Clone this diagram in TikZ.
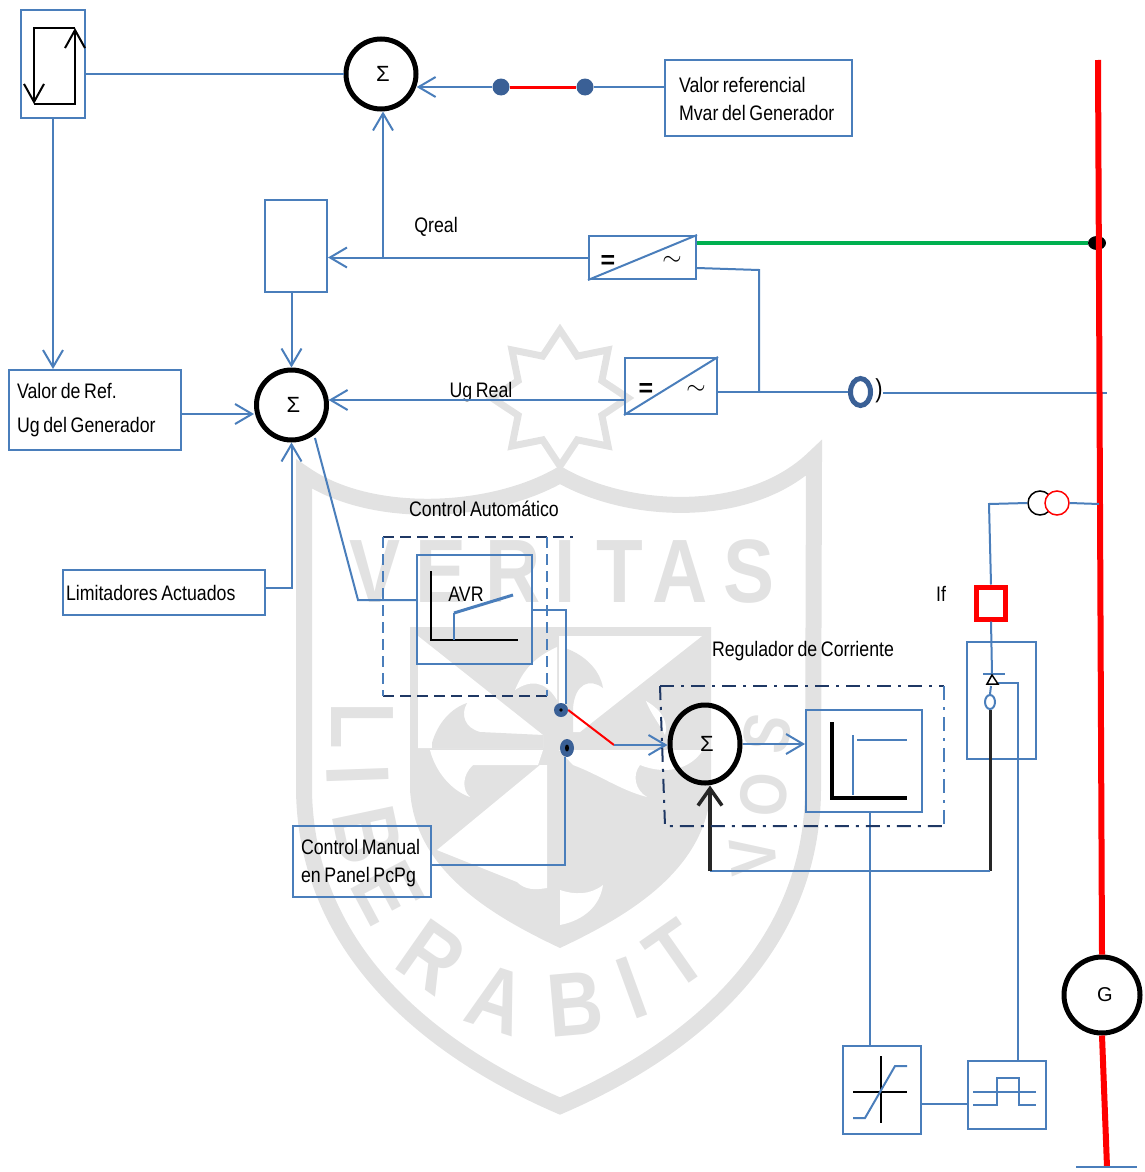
\documentclass[tikz,border=0pt]{standalone}
\usepackage{fontspec}
\setmainfont{Liberation Sans}[FakeStretch=0.845,WordSpace=0.75]
\newfontfamily\plainfont{Liberation Sans}
\newfontfamily\markfont{Liberation Sans}[FakeStretch=0.85]
\usetikzlibrary{shapes, arrows.meta, positioning}
\definecolor{wireblue}{HTML}{4A7EBB}
\definecolor{dotblue}{HTML}{3A6096}
\definecolor{navydash}{HTML}{1F3864}
\definecolor{markgray}{HTML}{E2E2E2}
\definecolor{busgreen}{HTML}{00B050}
\newcommand{\lblfont}{\fontsize{21}{28}\selectfont}
\newcommand{\sumsym}{\hspace*{4pt}\raisebox{-3pt}{Σ}}

\begin{document}
\begin{tikzpicture}[x=1pt, y=-1pt,
      blk/.style={draw=wireblue, line width=2pt, inner sep=0pt},
      txtblk/.style={blk, align=flush left, inner xsep=8pt, font=\lblfont},
      wire/.style={draw=wireblue, line width=2pt},
      arr/.style={wire, -{Straight Barb[length=17pt,width=20pt]}},
      plot/.style={draw=black, line width=2.5pt},
      sumnode/.style={circle, draw=black, line width=5pt, minimum size=70pt, inner sep=0pt, font=\plainfont\fontsize{22}{22}\selectfont},
      bus/.style={draw=red, line width=6pt},
      lbl/.style={font=\lblfont, inner sep=0pt},
      conn/.style={ellipse, fill=dotblue, inner sep=0pt, minimum width=14pt, minimum height=14pt},
      dashnavy/.style={draw=navydash, line width=2pt, dash pattern=on 11pt off 6pt},
      dashblue/.style={draw=wireblue, line width=2pt, dash pattern=on 11pt off 6pt},
      dotnavy/.style={draw=navydash, line width=2pt, dash pattern=on 14pt off 7pt on 3pt off 7pt},
      dotblue/.style={draw=wireblue, line width=2pt, dash pattern=on 14pt off 7pt on 3pt off 7pt},
      wmark/.style={text=markgray, inner sep=0pt, font=\markfont\bfseries\fontsize{90}{90}\selectfont},
      wmarksmall/.style={wmark, font=\markfont\bfseries\fontsize{66}{66}\selectfont}
    ]
      \useasboundingbox (0,0) rectangle (1144,1172);

      % escudo de fondo
      \draw[markgray, line width=16pt, line join=miter] (304,474) .. controls (370,520) and (490,515) .. (560,475)
        .. controls (630,515) and (750,520) .. (814,458) -- (813,790)
        .. controls (812,950) and (690,1050) .. (560,1106) .. controls (430,1050) and (306,950) .. (304,790) -- cycle;
      \fill[markgray] (410,627) -- (711,627) -- (711,790) .. controls (705,870) and (630,915) .. (560,948)
        .. controls (490,915) and (415,870) .. (410,790) -- cycle;
      \fill[white] (418,636) -- (543,735) -- (543,748) -- (418,748) -- cycle;
      \fill[markgray] (432,743) .. controls (438,722) and (452,708) .. (467,703) .. controls (460,715) and (465,728) .. (480,732) -- (543,735) -- (543,748) -- (432,748) -- cycle;
      \fill[white] (515,690) .. controls (525,665) and (540,655) .. (557,647) -- (557,700) .. controls (545,680) and (530,680) .. (515,690) -- cycle;
      \fill[white] (559,636) -- (702,636) -- (580,732) -- (573,732) -- (573,708) -- (559,708) -- cycle;
      \fill[markgray] (565,648) .. controls (585,655) and (600,670) .. (603,688) .. controls (590,678) and (575,683) .. (573,708) -- (573,735) -- (565,735) -- cycle;
      \fill[white] (646,701) .. controls (665,712) and (668,725) .. (665,735) .. controls (660,725) and (650,712) .. (646,701) -- cycle;
      \fill[white] (430,750) -- (543,750) -- (538,765) -- (473,765) .. controls (462,775) and (462,790) .. (470,797) .. controls (450,790) and (435,770) .. (430,750) -- cycle;
      \fill[white] (437,850) -- (540,765) -- (547,765) -- (547,888) .. controls (535,890) and (525,890) .. (517,882) -- cycle;
      \fill[white] (559,750) -- (703,750) .. controls (690,770) and (665,775) .. (640,765) .. controls (632,775) and (635,790) .. (647,797) .. controls (620,790) and (600,775) .. (573,765) -- cycle;
      \fill[white] (560,925) .. controls (585,920) and (600,905) .. (603,885) .. controls (590,895) and (575,895) .. (560,890) -- cycle;
      \node[star, star points=8, star point ratio=1.5, draw=markgray, line width=7pt, minimum size=136pt, inner sep=0pt] (wmstar) at (560,398) {};
      \foreach \i/\x/\y/\r/\l in {1/375/572/0/V, 2/441/572/0/E, 3/513/572/0/R, 4/565/572/0/I, 5/620/572/0/T, 6/680/572/0/A, 7/749/572/0/S,
          8/362/726/-90/L, 9/358/775/-88/I, 10/368/835/-78/B, 11/388/892/-62/E, 12/432/957/-35/R, 13/497/1000/-18/A, 14/575/1004/5/B, 15/632/988/20/I, 16/676/955/35/T}
        \node[wmark, rotate=\r] (wm\i) at (\x,\y) {\l};
      \foreach \i/\x/\y/\r/\l in {17/767/733/78/S, 18/764/795/85/O, 19/753/857/95/V}
        \node[wmarksmall, rotate=\r] (wm\i) at (\x,\y) {\l};

      % bloques
      \node[blk, minimum width=64pt, minimum height=108pt] (swbox) at (53,64) {};
      \node[sumnode] (sumq) at (381,74) {\sumsym};
      \node[sumnode] (sumu) at (291.5,405) {\sumsym};
      \node[sumnode, ellipse, minimum width=70pt, minimum height=78pt] (sumi) at (705,744) {\sumsym};
      \node[txtblk, text width=159pt, inner xsep=14pt, minimum height=76pt] (mvar) at (758.5,98) {\rule{0pt}{17pt}Valor referencial\\Mvar del Generador};
      \node[blk, minimum width=62pt, minimum height=92pt] (qbox) at (296,246) {};
      \node[blk, minimum width=107pt, minimum height=43pt] (conv1) at (642.5,257.5) {};
      \node[blk, minimum width=92pt, minimum height=56pt] (conv2) at (671,386) {};
      \node[txtblk, text width=156pt, minimum height=80pt] (vref) at (95,410) {Valor de Ref.\\[6pt]Ug del Generador};
      \node[txtblk, text width=196pt, inner xsep=3pt, minimum height=45pt] (limit) at (164,592.5) {\rule{0pt}{17pt}Limitadores Actuados};
      \node[blk, minimum width=115pt, minimum height=109pt] (avr) at (474.5,609.5) {};
      \node[txtblk, text width=122pt, minimum height=71pt] (cman) at (362,861.5) {\rule{0pt}{19pt}Control Manual\\en Panel PcPg};
      \node[blk, minimum width=116pt, minimum height=102pt] (regbox) at (864,761) {};
      \node[blk, minimum width=78pt, minimum height=88pt] (limbox) at (882,1090) {};
      \node[blk, minimum width=78pt, minimum height=68pt] (pulse) at (1007,1095) {};
      \node[blk, minimum width=69pt, minimum height=117pt] (thy) at (1001.5,700.5) {};
      \node[draw=red, line width=5pt, minimum width=29pt, minimum height=32pt, inner sep=0pt] (rsq) at (991,603) {};
      \node[circle, draw=black, line width=1.5pt, minimum size=24pt, inner sep=0pt] (cta) at (1040,503) {};
      \node[circle, draw=red, fill=white, line width=1.5pt, minimum size=24pt, inner sep=0pt] (ctb) at (1057,503) {};
      \node[circle, draw=black, line width=5pt, minimum size=76pt, inner sep=0pt, font=\plainfont\fontsize{20}{20}\selectfont] (gen) at (1102,995) {\hspace*{6pt}G};
      \node[conn, minimum size=17pt] (dota) at (501,87) {};
      \node[conn, minimum size=17pt] (dotb) at (585,87) {};
      \node[conn] (dot1) at (561,710) {};
      \node[conn, minimum height=18pt] (dot2) at (567,748) {};
      \node[ellipse, draw=dotblue, line width=5pt, minimum width=20pt, minimum height=27pt, inner sep=0pt] (ring) at (860.5,392) {};
      \node[font=\fontsize{26}{26}\selectfont, inner sep=0pt] (paren) at (879,391) {)};
      \node[ellipse, fill=black, minimum width=18pt, minimum height=14pt, inner sep=0pt] (busdot) at (1097,243) {};
      \node[ellipse, draw=wireblue, line width=2pt, fill=white, minimum width=10pt, minimum height=14pt, inner sep=0pt] (thring) at (990,702) {};

      % textos
      \node[lbl] (qlbl) at (436,227) {Qreal};
      \node[lbl] (uglbl) at (481,392) {Ug Real};
      \node[lbl] (autolbl) at (484,509) {Control Automático};
      \node[lbl] (reglbl) at (803,651) {Regulador de Corriente};
      \node[lbl] (iflbl) at (941,594) {If};
      \node[lbl] (avrlbl) at (466,594) {AVR};
      \node[font=\plainfont\bfseries\fontsize{25}{25}\selectfont, inner sep=0pt] (eq1) at (608,262) {=};
      \node[font=\fontsize{24}{24}\selectfont, inner sep=0pt] (ac1) at (672,261) {$\sim$};
      \node[font=\plainfont\bfseries\fontsize{25}{25}\selectfont, inner sep=0pt] (eq2) at (646,390) {=};
      \node[font=\fontsize{24}{24}\selectfont, inner sep=0pt] (ac2) at (696,390) {$\sim$};

      % puntos libres
      \coordinate (qtap) at (383,258);
      \coordinate (conv1out) at (697,268);
      \coordinate (ugtap) at (759,392);
      \coordinate (ugin) at (625,400);
      \coordinate (vrefout) at (181,414);
      \coordinate (limout) at (265,588);
      \coordinate (sumuout) at (315,438);
      \coordinate (avrin) at (358,600);
      \coordinate (avrsw) at (566,704);
      \coordinate (swend) at (614,745);
      \coordinate (cmanout) at (431,865);
      \coordinate (dot2in) at (565,757);
      \coordinate (regout) at (870,812);
      \coordinate (limboxout) at (921,1104);
      \coordinate (pulseout) at (1018,1061);
      \coordinate (gate) at (998,683);
      \coordinate (thybar) at (992,674);
      \coordinate (fbk) at (990,871);
      \coordinate (fbkl) at (710,871);
      \coordinate (ctcorner) at (989,504);
      \coordinate (busct) at (1099,504);
      \coordinate (busmid) at (1107,393);
      \coordinate (bustop) at (1098,60);
      \coordinate (busend) at (1107,1167);

      % conexiones
      \draw[wire] (swbox.east |- sumq) -- (sumq.west);
      \draw[wire] (mvar.west |- dotb) -- (dotb);
      \draw[red, line width=3pt] (dota) -- (dotb);
      \draw[arr] (dota) -- (dota -| sumq.-18);
      \draw[arr] (conv1.west) -- (qbox.east |- conv1.west);
      \draw[arr] (qtap) -- (qtap |- sumq.south);
      \draw[arr] (qbox.south -| sumu.north) -- (sumu.north);
      \draw[arr] (swbox.south) -- (swbox.south |- vref.north);
      \draw[arr] (vrefout) -- (vrefout -| sumu.west);
      \draw[arr] (ugin) -- (ugin -| sumu.8);
      \draw[arr] (limout) -| (sumu.south);
      \draw[wire] (conv1out) -- (759,270) -- (ugtap);
      \draw[wire] (conv2.east |- ugtap) -- (ring.west);
      \draw[wire] (paren.east |- busmid) -- (busmid);
      \draw[busgreen, line width=4pt] (conv1.east |- busdot) -- (busdot);
      \draw[bus] (bustop) -- (gen.north);
      \draw[bus] (gen.south) -- (busend);
      \draw[wire] (busend) +(-31,0) -- +(30,0);
      \draw[wire] (sumuout) -- (avrin) -- (avrin -| avr.west);
      \draw[wire] (avr.east) -| (avrsw);
      \draw[red, line width=2pt] (dot1.east) -- (swend);
      \draw[arr] (swend) -- (swend -| sumi.west);
      \draw[wire] (cmanout) -| (dot2in);
      \draw[arr] (sumi.east) -- (regbox.west |- sumi.east);
      \draw[wire] (regout) -- (regout |- limbox.north);
      \draw[wire] (limboxout) -- (limboxout -| pulse.west);
      \draw[wire] (pulseout) |- (gate);
      \draw[wire] (ctb.east) -- (busct);
      \draw[wire] (cta.west) -- (ctcorner) -- (rsq.north);
      \draw[wire] (rsq.south) -- (thybar);
      \draw[wire] (991,686) -- (thring.north);
      \draw[black!85, line width=3pt] (thring.south) -- (fbk);
      \draw[wire] (fbk) -- (fbkl);
      \draw[black!85, line width=3.5pt, -{Straight Barb[length=17pt,width=24pt]}] (fbkl) -- (fbkl |- sumi.south);

      % recuadros punteados
      \node[minimum width=164pt, minimum height=159pt, inner sep=0pt, outer sep=0pt] (autobox) at (465,616.5) {};
      \draw[dashnavy] (autobox.north west) -- (573,537);
      \draw[dashnavy] (autobox.south west) -- (autobox.south east);
      \draw[dashblue] (autobox.north west) -- (autobox.south west);
      \draw[dashblue] (autobox.north east) -- (autobox.south east);
      \draw[dotnavy] (660,686) -- (944,686);
      \draw[dotnavy] (660,686) -- (665,826) -- (944,826);
      \draw[dotblue] (944,686) -- (944,826);

      % interior de bloques
      \draw[black, line width=2pt, -{Straight Barb[length=18pt,width=20pt]}] (34,104) -- (75,104) -- (75,28);
      \draw[black, line width=2pt, -{Straight Barb[length=18pt,width=20pt]}] (75,28) -- (34,28) -- (34,104);
      \draw[wire] (conv1.south west) -- (conv1.north east);
      \draw[wire] (conv2.south west) -- (conv2.north east);
      \draw[plot] (431,571) -- (431,640) -- (518,640);
      \draw[wire] (454,640) -- (454,613);
      \draw[wire, line width=3pt] (454,613) -- (513,595);
      \draw[black, line width=4pt] (832,722) -- (832,798) -- (907,798);
      \draw[wire] (853,735) -- (853,795);
      \draw[wire] (857,740) -- (907,740);
      \draw[plot] (853,1092) -- (907,1092);
      \draw[plot] (881,1056) -- (881,1123);
      \draw[wire] (853,1118) -- (865,1118) -- (895,1066) -- (907,1066);
      \draw[wire] (973,1092) -- (1036,1092);
      \draw[wire] (973,1105) -- (997,1105) -- (997,1078) -- (1019,1078) -- (1019,1105) -- (1036,1105);
      \draw[wire] (983,674) -- (1005,674);
      \draw[black, fill=white, line width=1.5pt] (987,684) -- (992,675) -- (998,684) -- cycle;
      \fill[black] (dot1) circle (1.8);
      \fill[black] (dot2) ellipse (2 and 3.5);
    \end{tikzpicture}
\end{document}
